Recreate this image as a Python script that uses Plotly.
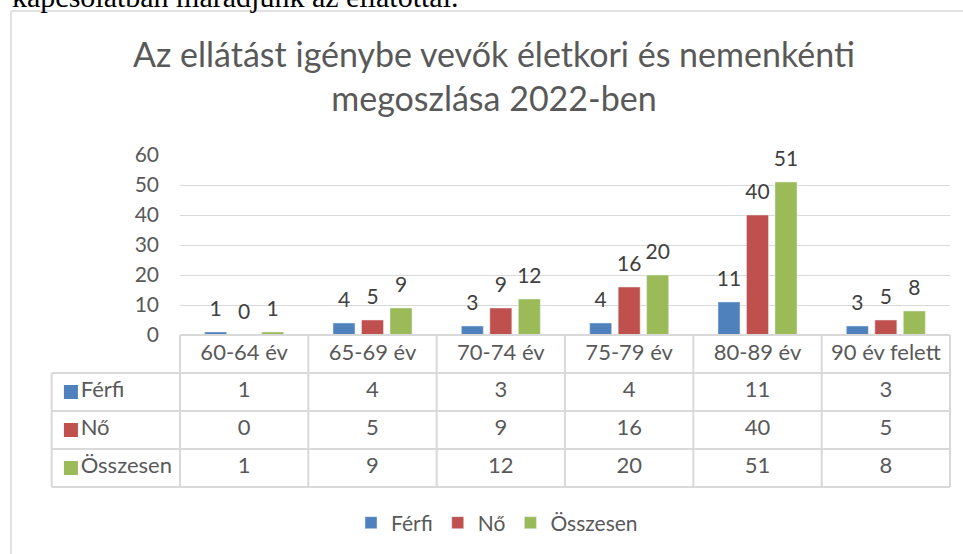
import plotly.graph_objects as go

# ---------------- data ----------------
categories = ["60-64 év", "65-69 év", "70-74 év", "75-79 év", "80-89 év", "90 év felett"]
series_names = ["Férfi", "Nő", "Összesen"]
ferfi = [1, 4, 3, 4, 11, 3]
no = [0, 5, 9, 16, 40, 5]
osszesen = [1, 9, 12, 20, 51, 8]
series_values = [ferfi, no, osszesen]
y_tick_values = [0, 10, 20, 30, 40, 50, 60]
title_text = "Az ellátást igénybe vevők életkori és nemenkénti<br>megoszlása 2022-ben"
above_text = "kapcsolatban maradjunk az ellátottal."

# ---------------- style ----------------
W, H = 963, 554
colors = ["#4F81BD", "#C0504D", "#9BBB59"]
TXT = "#595959"
GRID = "#D9D9D9"
FONT = "Lato"
GAP = 0.334


def fx(p):
    return p / W


def fy(p):
    return 1 - p / H


fig = go.Figure()

# bars
for name, vals, col in zip(series_names, series_values, colors):
    fig.add_trace(go.Bar(
        x=categories, y=vals, name=name, marker_color=col,
        xaxis="x", yaxis="y", hoverinfo="x+y+name",
    ))

# data labels (grouped scatter aligned with the bars)
for name, vals in zip(series_names, series_values):
    fig.add_trace(go.Scatter(
        x=categories, y=vals, mode="markers+text", text=[str(v) for v in vals],
        textposition="top center", cliponaxis=False,
        marker=dict(size=16, opacity=0, color="white"),
        textfont=dict(family=FONT, size=21, color="#404040"),
        xaxis="x", yaxis="y", showlegend=False, hoverinfo="skip", name=name,
    ))

# table: header text
n = len(categories)
fig.add_trace(go.Scatter(
    x=list(range(n)), y=[0.5] * n, text=categories, mode="text",
    textfont=dict(family=FONT, size=22, color=TXT), offsetgroup="table",
    xaxis="x2", yaxis="y2", showlegend=False, hoverinfo="skip",
))
# table: values
for r, vals in enumerate(series_values):
    fig.add_trace(go.Scatter(
        x=list(range(n)), y=[r + 1.5] * n, text=[str(v) for v in vals], mode="text",
        textfont=dict(family=FONT, size=22, color=TXT), offsetgroup="table",
        xaxis="x2", yaxis="y2", showlegend=False, hoverinfo="skip",
    ))
# table: row labels with legend keys
fig.add_trace(go.Scatter(
    x=[-1.35] * 3, y=[1.5, 2.5, 3.5], text=series_names, mode="markers+text",
    textposition="middle right", offsetgroup="table",
    marker=dict(symbol="square", size=14, color=colors),
    textfont=dict(family=FONT, size=22, color=TXT),
    xaxis="x2", yaxis="y2", showlegend=False, hoverinfo="skip",
))

shapes = []
line = dict(color=GRID, width=2)
for i in range(n + 1):
    shapes.append(dict(type="line", xref="x2", yref="y2", x0=i - 0.5, x1=i - 0.5,
                       y0=0, y1=4, line=line))
shapes.append(dict(type="line", xref="x2", yref="y2", x0=-1.5, x1=-1.5, y0=1, y1=4, line=line))
shapes.append(dict(type="line", xref="x2", yref="y2", x0=-0.5, x1=n - 0.5, y0=0, y1=0, line=line))
for r in range(1, 5):
    shapes.append(dict(type="line", xref="x2", yref="y2", x0=-1.5, x1=n - 0.5, y0=r, y1=r, line=line))
# outer chart frame
shapes.append(dict(type="line", xref="paper", yref="paper", x0=fx(11), x1=fx(11),
                   y0=fy(11), y1=0, line=dict(color=GRID, width=1.5)))
shapes.append(dict(type="line", xref="paper", yref="paper", x0=fx(11), x1=1,
                   y0=fy(11), y1=fy(11), line=dict(color=GRID, width=1.5)))

col_w = (950 - 180) / n
pad = 0.02
pad_r = 0.05
row_h = 38

fig.update_layout(
    width=W, height=H,
    margin=dict(l=0, r=0, t=0, b=0, autoexpand=False),
    paper_bgcolor="white", plot_bgcolor="rgba(0,0,0,0)",
    barmode="group", bargap=GAP, bargroupgap=0.228,
    scattermode="group", scattergap=GAP,
    showlegend=True,
    legend=dict(orientation="h", x=fx(497), xanchor="center", y=fy(523), yanchor="middle",
                font=dict(family=FONT, size=21, color=TXT), itemwidth=30,
                traceorder="normal"),
    xaxis=dict(domain=[fx(180), fx(950)], range=[-0.5, n - 0.5], type="category",
               showticklabels=False, showgrid=False, zeroline=False, showline=False,
               anchor="y"),
    yaxis=dict(domain=[fy(335), fy(155)], range=[0, 60], tickvals=y_tick_values,
               showgrid=True, gridcolor=GRID, gridwidth=1.3, zeroline=False,
               showline=False, ticks="", ticklabelstandoff=20,
               tickfont=dict(family=FONT, size=21, color=TXT), anchor="x"),
    xaxis2=dict(domain=[fx(180 - col_w - pad * col_w), fx(950 + pad * col_w)],
                range=[-1.5 - pad, n - 0.5 + pad], visible=False, anchor="y2"),
    yaxis2=dict(domain=[fy(335 + 4 * row_h + pad_r * row_h), fy(335 - pad_r * row_h)],
                range=[4 + pad_r, -pad_r], visible=False, anchor="x2"),
    shapes=shapes,
    annotations=[
        dict(text=title_text, xref="paper", yref="paper", x=fx(494), y=fy(76),
             xanchor="center", yanchor="middle", showarrow=False,
             font=dict(family=FONT, size=34, color=TXT)),
        dict(text=above_text, xref="paper", yref="paper", x=fx(460), y=fy(15),
             xanchor="right", yanchor="bottom", showarrow=False,
             font=dict(family="Liberation Serif", size=30, color="black")),
    ],
)

fig.write_html("out.html", config={"displayModeBar": False},
               post_script="document.body.style.margin='0';")
